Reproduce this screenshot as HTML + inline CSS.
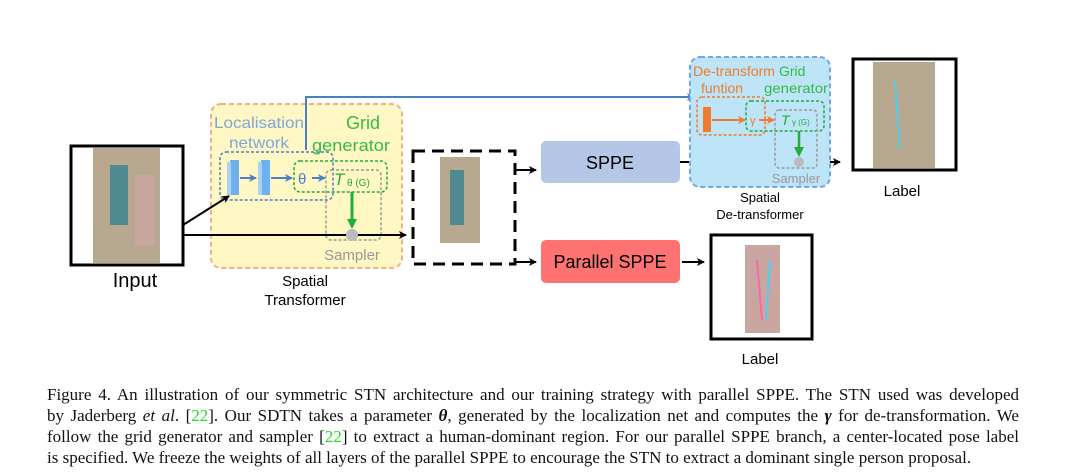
<!DOCTYPE html>
<html><head><meta charset="utf-8"><style>
body{margin:0;background:#fff;width:1065px;height:473px;overflow:hidden;position:relative}
.cap{position:absolute;left:47px;width:972px;font-family:"Liberation Serif",serif;font-size:17px;color:#111}
.cap div{height:21px;text-align:justify;text-align-last:justify;white-space:nowrap;overflow:visible}
.cap div.last{text-align-last:left}
.g{color:#22dd22}
</style></head><body>
<svg width="1065" height="380" style="position:absolute;left:0;top:0" font-family="Liberation Sans, sans-serif">
<defs>
<marker id="ak" markerWidth="8" markerHeight="8" refX="7" refY="4" orient="auto" markerUnits="userSpaceOnUse"><path d="M0,0 L8,4 L0,8 L2,4z" fill="#000"/></marker>
<marker id="ab" markerWidth="8" markerHeight="8" refX="7" refY="4" orient="auto" markerUnits="userSpaceOnUse"><path d="M0,0 L8,4 L0,8 L2,4z" fill="#4a7fc4"/></marker>
<marker id="ag" markerWidth="10" markerHeight="10" refX="8" refY="5" orient="auto" markerUnits="userSpaceOnUse"><path d="M0,0 L10,5 L0,10z" fill="#1fae3a"/></marker>
<marker id="ao" markerWidth="8" markerHeight="8" refX="7" refY="4" orient="auto" markerUnits="userSpaceOnUse"><path d="M0,0 L8,4 L0,8 L2,4z" fill="#ee7b30"/></marker>
</defs>
<rect x="71" y="146" width="112" height="119" fill="#fff" stroke="#000" stroke-width="3"/>
<rect x="93" y="148" width="67" height="115" fill="#b8a890"/>
<rect x="110" y="165" width="18" height="60" fill="#4e8a90"/>
<rect x="135" y="175" width="20" height="70" fill="#c9a7a0"/>
<text x="135" y="287" font-size="20" text-anchor="middle">Input</text>
<rect x="211" y="104" width="191" height="164" rx="10" fill="#fff8c4" stroke="#f4b183" stroke-width="2" stroke-dasharray="5,3"/>
<text x="214" y="128" font-size="16" fill="#7ea6d8" textLength="90" lengthAdjust="spacingAndGlyphs">Localisation</text>
<text x="229" y="148" font-size="16" fill="#7ea6d8" textLength="60" lengthAdjust="spacingAndGlyphs">network</text>
<text x="346" y="129" font-size="18" fill="#33bb44">Grid</text>
<text x="312" y="151" font-size="17" fill="#33bb44" textLength="78" lengthAdjust="spacingAndGlyphs">generator</text>
<rect x="220" y="152" width="113" height="48" rx="6" fill="none" stroke="#4a7fc4" stroke-width="1.5" stroke-dasharray="3,2"/>
<rect x="230" y="160" width="9" height="35" fill="#6fb0ee"/><rect x="227" y="162" width="4" height="33" fill="#a9d2f5"/>
<rect x="261" y="160" width="9" height="35" fill="#6fb0ee"/><rect x="258" y="162" width="4" height="33" fill="#a9d2f5"/>
<line x1="240" y1="178" x2="256" y2="178" stroke="#4a7fc4" stroke-width="2" marker-end="url(#ab)"/>
<line x1="271" y1="178" x2="292" y2="178" stroke="#4a7fc4" stroke-width="2" marker-end="url(#ab)"/>
<rect x="294" y="161" width="93" height="31" rx="6" fill="none" stroke="#1fae3a" stroke-width="1.5" stroke-dasharray="3,2"/>
<rect x="326" y="170" width="55" height="70" rx="5" fill="none" stroke="#999" stroke-width="1.5" stroke-dasharray="3,2"/>
<text x="298" y="184" font-size="15" fill="#4a7fc4">θ</text>
<line x1="312" y1="178" x2="325" y2="178" stroke="#4a7fc4" stroke-width="2" marker-end="url(#ab)"/>
<text x="334" y="185" font-size="17" font-style="italic" fill="#1fae3a">T</text>
<text x="347" y="186" font-size="10" fill="#1fae3a">θ (G)</text>
<line x1="352" y1="192" x2="352" y2="227" stroke="#1fae3a" stroke-width="3" marker-end="url(#ag)"/>
<text x="352" y="260" font-size="15" fill="#999" text-anchor="middle">Sampler</text>
<text x="305" y="286" font-size="15" text-anchor="middle">Spatial</text>
<text x="305" y="305" font-size="15" text-anchor="middle">Transformer</text>
<polyline points="306,150 306,97 694,97" fill="none" stroke="#4a7fc4" stroke-width="2" marker-end="url(#ab)"/>
<line x1="183" y1="235" x2="406" y2="235" stroke="#000" stroke-width="2" marker-end="url(#ak)"/>
<circle cx="352" cy="235" r="6" fill="#bbb"/>
<line x1="183" y1="225" x2="229" y2="196" stroke="#000" stroke-width="2" marker-end="url(#ak)"/>
<rect x="413" y="151" width="102" height="113" fill="none" stroke="#000" stroke-width="3" stroke-dasharray="12,7"/>
<rect x="440" y="157" width="40" height="86" fill="#b8a890"/>
<rect x="450" y="170" width="14" height="55" fill="#4e8a90"/>
<line x1="516" y1="170" x2="536" y2="170" stroke="#000" stroke-width="2" marker-end="url(#ak)"/>
<line x1="516" y1="262" x2="536" y2="262" stroke="#000" stroke-width="2" marker-end="url(#ak)"/>
<rect x="541" y="141" width="139" height="42" rx="5" fill="#b4c7e7"/>
<text x="610" y="169" font-size="18" text-anchor="middle">SPPE</text>
<line x1="680" y1="162" x2="840" y2="162" stroke="#000" stroke-width="2" marker-end="url(#ak)"/>
<rect x="541" y="240" width="139" height="43" rx="5" fill="#ff7272"/>
<text x="610" y="268" font-size="18" text-anchor="middle">Parallel SPPE</text>
<line x1="682" y1="262" x2="704" y2="262" stroke="#000" stroke-width="2" marker-end="url(#ak)"/>
<rect x="711" y="235" width="101" height="104" fill="#fff" stroke="#000" stroke-width="3"/>
<rect x="745" y="245" width="35" height="88" fill="#c9a7a0"/>
<line x1="757" y1="260" x2="762" y2="320" stroke="#ff66aa" stroke-width="2"/>
<line x1="770" y1="260" x2="766" y2="320" stroke="#55ccee" stroke-width="2"/>
<text x="760" y="364" font-size="15" text-anchor="middle">Label</text>
<rect x="690" y="57" width="140" height="130" rx="10" fill="#bde4f7" stroke="#6fa8e8" stroke-width="2" stroke-dasharray="5,3"/>
<text x="693" y="76" font-size="14" fill="#ee7b30" textLength="82" lengthAdjust="spacingAndGlyphs">De-transform</text>
<text x="779" y="76" font-size="14" fill="#33bb44">Grid</text>
<text x="701" y="93" font-size="14" fill="#ee7b30">funtion</text>
<text x="764" y="93" font-size="14" fill="#33bb44" textLength="64" lengthAdjust="spacingAndGlyphs">generator</text>
<rect x="697" y="97" width="68" height="38" rx="5" fill="none" stroke="#ee7b30" stroke-width="1.5" stroke-dasharray="3,2"/>
<rect x="746" y="101" width="78" height="30" rx="5" fill="none" stroke="#1fae3a" stroke-width="1.5" stroke-dasharray="3,2"/>
<rect x="775" y="110" width="42" height="58" rx="4" fill="none" stroke="#999" stroke-width="1.5" stroke-dasharray="3,2"/>
<rect x="703" y="107" width="8" height="25" fill="#ee7b30"/>
<line x1="712" y1="120" x2="745" y2="120" stroke="#ee7b30" stroke-width="2" marker-end="url(#ao)"/>
<text x="750" y="124" font-size="11" fill="#ee7b30">γ</text>
<line x1="759" y1="120" x2="774" y2="120" stroke="#ee7b30" stroke-width="2" marker-end="url(#ao)"/>
<text x="781" y="125" font-size="14" font-style="italic" fill="#1fae3a">T</text>
<text x="792" y="125" font-size="8" fill="#1fae3a">γ (G)</text>
<line x1="799" y1="131" x2="799" y2="155" stroke="#1fae3a" stroke-width="2.5" marker-end="url(#ag)"/>
<circle cx="799" cy="162" r="5" fill="#bbb"/>
<text x="796" y="183" font-size="13" fill="#999" text-anchor="middle">Sampler</text>
<text x="760" y="202" font-size="13" text-anchor="middle">Spatial</text>
<text x="760" y="219" font-size="13" text-anchor="middle">De-transformer</text>
<rect x="853" y="59" width="103" height="111" fill="#fff" stroke="#000" stroke-width="3"/>
<rect x="873" y="62" width="62" height="106" fill="#b8a890"/>
<line x1="895" y1="80" x2="900" y2="150" stroke="#55ccee" stroke-width="2"/>
<text x="902" y="196" font-size="15" text-anchor="middle">Label</text>
</svg>
<div class="cap" style="top:385px">
<div>Figure 4. An illustration of our symmetric STN architecture and our training strategy with parallel SPPE. The STN used was developed</div>
<div>by Jaderberg <i>et al</i>. [<span class="g">22</span>]. Our SDTN takes a parameter <b><i>θ</i></b>, generated by the localization net and computes the <b><i>γ</i></b> for de-transformation. We</div>
<div>follow the grid generator and sampler [<span class="g">22</span>] to extract a human-dominant region. For our parallel SPPE branch, a center-located pose label</div>
<div class="last">is specified. We freeze the weights of all layers of the parallel SPPE to encourage the STN to extract a dominant single person proposal.</div>
</div>
</body></html>
